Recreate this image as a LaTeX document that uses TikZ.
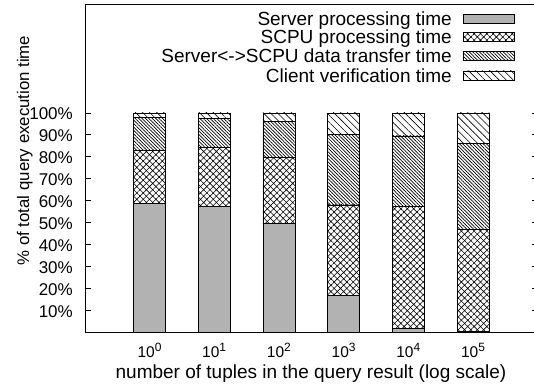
\documentclass[tikz,border=0pt]{standalone}
\usepackage{fontspec}
\setmainfont{Liberation Sans}
\usetikzlibrary{patterns.meta}
\tikzset{
  server/.style={fill=gray!60, draw=black, line width=0.8pt},
  scpu/.style={pattern={Hatch[angle=45,distance=4.5pt,line width=0.6pt]}, draw=black, line width=0.8pt},
  transfer/.style={pattern={Lines[angle=135,distance=2.4pt,line width=0.7pt]}, draw=black, line width=0.8pt},
  client/.style={pattern={Lines[angle=135,distance=5pt,line width=0.6pt]}, draw=black, line width=0.8pt},
  ticklbl/.style={font=\fontsize{17}{19}\selectfont, inner sep=0pt},
  xticklbl/.style={font=\fontsize{15.5}{17}\selectfont, inner sep=0pt},
  keylbl/.style={font=\fontsize{19}{21}\selectfont, inner sep=0pt},
  axislbl/.style={font=\fontsize{19}{21}\selectfont, inner sep=0pt},
  yaxislbl/.style={font=\fontsize{16.8}{19}\selectfont, inner sep=0pt},
  frame/.style={draw=black, line width=0.9pt},
}
\newcommand{\tenpow}[1]{10\raisebox{6.5pt}{\fontsize{12}{13}\selectfont #1}}
\begin{document}
\begin{tikzpicture}[x=1pt, y=1pt]
\useasboundingbox (0,0) rectangle (534,387);
\fill[white] (0,0) rectangle (534,387);

% plot frame with ticks on both sides
\draw[frame] (85,55) rectangle (538,383);

% stacked bars: one scope unit in y is one percent
\begin{scope}[shift={(0,55)}, y=2.19pt]
  \foreach \v in {10,20,...,100} {
    \draw[frame] (85,\v) -- (91,\v);
    \draw[frame] (532,\v) -- (538,\v);
    \node[ticklbl, anchor=east] at (73,\v-0.5) {\v\%};
  }
  \foreach \cx/\a/\b/\c/\e in {
      149.5/58.8/83.1/98.0/0,
      214.2/57.5/84.2/97.6/1,
      278.9/49.6/79.8/96.0/2,
      343.6/16.9/58.0/90.0/3,
      408.3/1.5/57.5/89.5/4,
      473.0/0.2/46.9/86.0/5} {
    \draw[server]   (\cx-16,0)  rectangle (\cx+16,\a);
    \draw[scpu]     (\cx-16,\a) rectangle (\cx+16,\b);
    \draw[transfer] (\cx-16,\b) rectangle (\cx+16,\c);
    \draw[client]   (\cx-16,\c) rectangle (\cx+16,100);
    \node[xticklbl, anchor=base] at (\cx,-11.8) {\tenpow{\e}};
  }
\end{scope}

% axis titles
\node[yaxislbl, rotate=90, anchor=base] (ylab) at (29,236.5) {\% of total query execution time};
\node[axislbl, anchor=base] (xlab) at (311,8.7) {number of tuples in the query result (log scale)};

% key
\node[keylbl, anchor=base east] (k1) at (452,361.7) {Server processing time};
\node[keylbl, anchor=base east] (k2) at (452,343.2) {SCPU processing time};
\node[keylbl, anchor=base east] (k3) at (452,324.2) {Server<->SCPU data transfer time};
\node[keylbl, anchor=base east] (k4) at (452,304.7) {Client verification time};
\draw[server]   (463,364) rectangle (514,373);
\draw[scpu]     (463,345.5) rectangle (514,354.5);
\draw[transfer] (463,326.5) rectangle (514,335.5);
\draw[client]   (463,307) rectangle (514,316);
\end{tikzpicture}
\end{document}
